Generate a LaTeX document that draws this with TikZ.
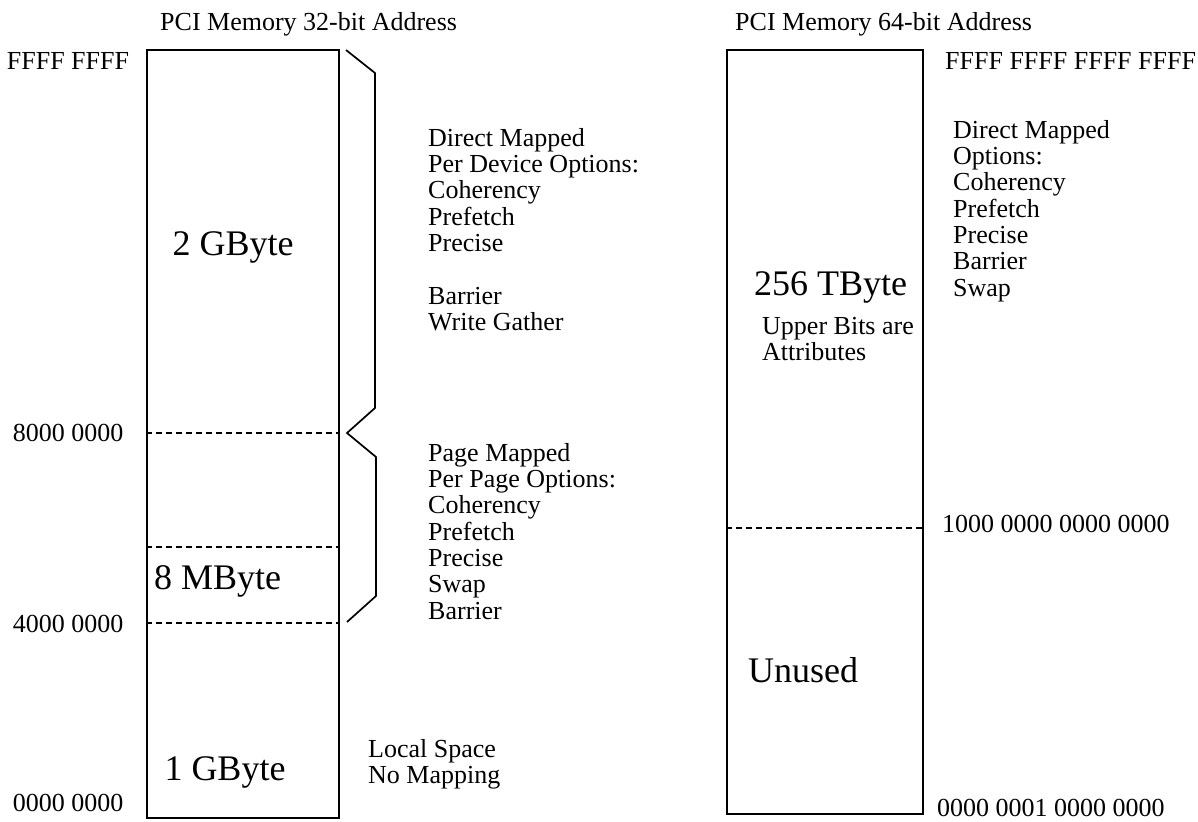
\documentclass[tikz,border=0pt]{standalone}
\usepackage{fontspec}
\setmainfont{Liberation Serif}
\begin{document}
\begin{tikzpicture}[x=1pt,y=-1pt,
  lbl/.style={font=\fontsize{26}{26.3}\selectfont, inner sep=0pt, align=left},
  big/.style={font=\fontsize{36}{36}\selectfont, inner sep=0pt},
  mem/.style={draw, line width=1.7pt, inner sep=0pt, anchor=north west},
  divider/.style={line width=1.5pt, dash pattern=on 6pt off 4pt},
  bracket/.style={line width=1.7pt, line join=miter}]
\useasboundingbox (0,0) rectangle (1198,821);

% ---------- 32-bit PCI memory map ----------
\node[lbl, anchor=base west] (title32) at (160,31) {PCI Memory 32-bit Address};
\node[mem, minimum width=192pt, minimum height=768pt] (map32) at (146,49) {};

\coordinate (d1w) at (146,433); \coordinate (d1e) at (338,433);
\coordinate (d2w) at (146,547); \coordinate (d2e) at (338,547);
\coordinate (d3w) at (146,623); \coordinate (d3e) at (338,623);
\draw[divider] (d1w) -- (d1e);
\draw[divider] (d2w) -- (d2e);
\draw[divider] (d3w) -- (d3e);

\node[lbl] (aFFFF) at (68,61) {FFFF FFFF};
\node[lbl] (a8000) at (68,433) {8000 0000};
\node[lbl] (a4000) at (68,624) {4000 0000};
\node[lbl] (a0000) at (68,803) {0000 0000};

\node[big, anchor=base] (s2g) at (233,255) {2 GByte};
\node[big, anchor=base west] (s8m) at (154,589) {8 MByte};
\node[big, anchor=base] (s1g) at (225,780) {1 GByte};

% bracket spanning the mapped windows
\coordinate (b0) at (346,50);
\coordinate (b1) at (375,73);
\coordinate (b2) at (375,408);
\coordinate (b3) at (347,433);
\coordinate (b4) at (376,457);
\coordinate (b5) at (376,596);
\coordinate (b6) at (347,622);
\draw[bracket] (b0) -- (b1) -- (b2) -- (b3) -- (b4) -- (b5) -- (b6);

\node[lbl, anchor=north west] (direct32) at (428,128)
  {Direct Mapped\\Per Device Options:\\Coherency\\Prefetch\\Precise\\[26.3pt]Barrier\\Write Gather};
\node[lbl, anchor=north west] (page32) at (428,443)
  {Page Mapped\\Per Page Options:\\Coherency\\Prefetch\\Precise\\Swap\\Barrier};
\node[lbl, anchor=north west] (local32) at (368,739)
  {Local Space\\No Mapping};

% ---------- 64-bit PCI memory map ----------
\node[lbl, anchor=base west] (title64) at (735,31) {PCI Memory 64-bit Address};
\node[mem, minimum width=196pt, minimum height=764pt] (map64) at (726,49) {};

\coordinate (e1w) at (726,528); \coordinate (e1e) at (922,528);
\draw[divider] (e1w) -- (e1e);

\node[lbl, anchor=west] (bFFFF) at (945,61) {FFFF FFFF FFFF FFFF};
\node[lbl, anchor=west] (b1000) at (942,524) {1000 0000 0000 0000};
\node[lbl, anchor=west] (b0001) at (937,808) {0000 0001 0000 0000};

\node[big, anchor=base west] (s256) at (754,295) {256 TByte};
\node[lbl, anchor=north west] (attr) at (762,317) {Upper Bits are\\Attributes};
\node[big, anchor=base west] (unused) at (748,682) {Unused};

\node[lbl, anchor=north west] (direct64) at (953,120)
  {Direct Mapped\\Options:\\Coherency\\Prefetch\\Precise\\Barrier\\Swap};
\end{tikzpicture}
\end{document}
